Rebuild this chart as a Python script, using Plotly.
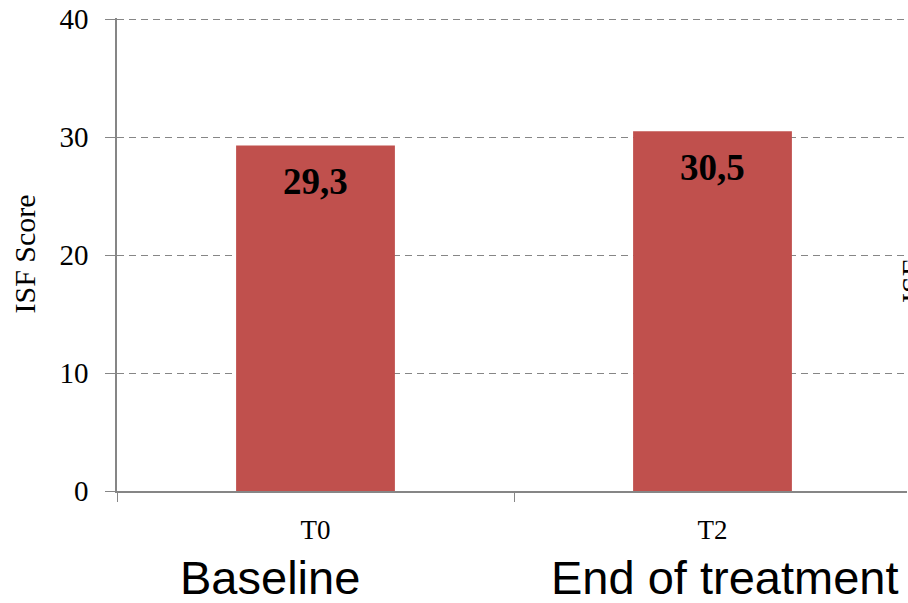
import plotly.graph_objects as go

# ISF score at each time point
timepoints = ["T0", "T2"]
phases = ["Baseline", "End of treatment"]
isf_scores = [29.3, 30.5]
y_ticks = [0, 10, 20, 30, 40]

BAR_RED = "#C0504D"
AXIS_GREY = "#868686"
SERIF = "Liberation Serif, Times New Roman, serif"
SANS = "Liberation Sans, Arial, sans-serif"

fig = go.Figure()
fig.add_trace(go.Bar(
    x=timepoints,
    y=isf_scores,
    width=0.4,
    marker=dict(color=BAR_RED, line=dict(width=0)),
    hoverinfo="skip",
))

# value labels inside the top of each bar
for t, v in zip(timepoints, isf_scores):
    fig.add_annotation(
        x=t, y=v, xref="x", yref="y",
        text="<b>" + f"{v:.1f}".replace(".", ",") + "</b>",
        showarrow=False, yanchor="middle", yshift=-36,
        font=dict(family=SERIF, size=37, color="black"),
    )

# phase names under the time point labels
phase_shift = [-138, -164]
for t, p, dx in zip(timepoints, phases, phase_shift):
    fig.add_annotation(
        x=t, y=0, xref="x", yref="paper",
        text=p, showarrow=False, xanchor="left", yanchor="middle",
        yshift=-86, xshift=dx,
        font=dict(family=SANS, size=47, color="black"),
    )

# y-axis title
fig.add_annotation(
    x=0, y=0.5, xref="paper", yref="paper",
    text="ISF Score", textangle=-90, showarrow=False,
    xanchor="center", yanchor="middle", xshift=-93,
    font=dict(family=SERIF, size=30, color="black"),
)
# title of the neighbouring panel, cut off at the right edge
fig.add_annotation(
    x=1, y=0.5, xref="paper", yref="paper",
    text="ISF", textangle=-90, showarrow=False,
    xanchor="left", yanchor="middle", xshift=-14, yshift=-27,
    font=dict(family=SERIF, size=30, color="black"),
)

fig.update_layout(
    width=908, height=603,
    margin=dict(l=117, r=1, t=18, b=112),
    paper_bgcolor="white", plot_bgcolor="white",
    showlegend=False,
    xaxis=dict(
        type="category",
        range=[-0.5, -0.5 + 790 / 397],
        showline=True, linecolor=AXIS_GREY, linewidth=1.5,
        ticks="outside", tickson="boundaries", ticklen=9,
        tickcolor=AXIS_GREY, tickwidth=1,
        showgrid=False,
        tickfont=dict(family=SERIF, size=27, color="black"),
        ticklabelstandoff=14,
    ),
    yaxis=dict(
        range=[0, 40.1],
        tickvals=y_ticks,
        showline=True, linecolor=AXIS_GREY, linewidth=1.5,
        ticks="outside", ticklen=10, tickcolor=AXIS_GREY, tickwidth=1,
        showgrid=True, gridcolor=AXIS_GREY, gridwidth=1.2, griddash="7px,5px",
        zeroline=False,
        tickfont=dict(family=SERIF, size=29, color="black"),
        ticklabelstandoff=11,
    ),
)

fig.write_html("out.html")
